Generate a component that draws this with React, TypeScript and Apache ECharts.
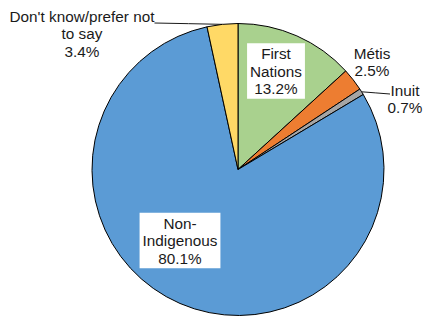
import React, { useEffect, useRef } from "react";
import * as echarts from "echarts";

const categories = [
  "First\nNations",
  "Métis",
  "Inuit",
  "Non-\nIndigenous",
  "Don't know/prefer not\nto say",
];
const values = [13.2, 2.5, 0.7, 80.1, 3.4];
const colors = ["#A9D18E", "#ED7D31", "#A5A5A5", "#5B9BD5", "#FFD966"];
const labelCenters: number[][] = [
  [276, 71],
  [372, 62],
  [405, 99],
  [180, 240.5],
  [82, 33.5],
];
const insideLabel = [true, false, false, true, false];
const leaderLine = [false, false, true, false, true];

const CX = 238;
const CY = 169.5;
const R = 146;

function edgePoint(i: number): number[] {
  const total = values.reduce((a, b) => a + b, 0);
  let before = 0;
  for (let k = 0; k < i; k++) before += values[k];
  const mid = ((before + values[i] / 2) / total) * Math.PI * 2;
  return [CX + R * Math.sin(mid), CY - R * Math.cos(mid)];
}

export default function App() {
  const ref = useRef<HTMLDivElement>(null);
  useEffect(() => {
    if (!ref.current) return;
    const chart = echarts.init(ref.current, undefined, { renderer: "svg" });
    const data = values.map((v, i) => ({
      name: categories[i],
      value: v,
      itemStyle: { color: colors[i] },
      label: insideLabel[i]
        ? {
            backgroundColor: "#ffffff",
            padding: [2, 3, 1, 3],
          }
        : {},
      labelLine: { show: leaderLine[i] },
    }));
    chart.setOption({
      animation: false,
      series: [
        {
          type: "pie",
          center: [CX, CY],
          radius: R,
          startAngle: 90,
          clockwise: true,
          avoidLabelOverlap: false,
          itemStyle: { borderColor: "#000000", borderWidth: 1 },
          label: {
            show: true,
            position: "outside",
            formatter: "{b}\n{c}%",
            fontFamily: "Liberation Sans, Arial, sans-serif",
            fontSize: 15.3,
            lineHeight: 17.5,
            color: "#1a1a1a",
            align: "center",
          },
          labelLine: {
            show: false,
            lineStyle: { color: "#1a1a1a", width: 1 },
          },
          emphasis: { disabled: true },
          labelLayout: (params: any) => {
            const i = params.dataIndex;
            const [x, y] = labelCenters[i];
            const res: any = { x, y, align: "center", verticalAlign: "middle" };
            if (leaderLine[i]) {
              const e = edgePoint(i);
              if (i === 2) {
                const end = [x - 15, 94];
                res.labelLinePoints = [e, [(e[0] + end[0]) / 2, (e[1] + end[1]) / 2], end];
              } else {
                const w = params.labelRect.width;
                const end = [x + w / 2, 23];
                res.labelLinePoints = [e, [(e[0] + end[0]) / 2, (e[1] + end[1]) / 2], end];
              }
            }
            return res;
          },
          data,
        },
      ],
    });
    return () => chart.dispose();
  }, []);
  return (
    <div
      ref={ref}
      style={{ position: "absolute", left: 0, top: 0, width: 424, height: 316 }}
    />
  );
}
